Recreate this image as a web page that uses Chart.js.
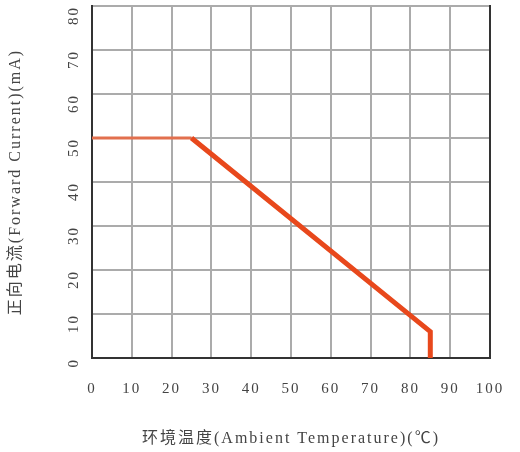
<!DOCTYPE html>
<html lang="zh">
<head>
    <meta charset="UTF-8">
    <title>Forward Current Derating</title>
    <script src="https://cdn.jsdelivr.net/npm/chart.js"></script>
    <style>
        body { margin: 0; background: #fff; }
    </style>
</head>
<body>
    <canvas id="myChart" width="520" height="452"></canvas>
    <script>
        // derating curve points
        const temps = [0, 25, 85, 85];
        const currents = [50, 50, 6, 0];
        const xTicks = [0, 10, 20, 30, 40, 50, 60, 70, 80, 90, 100];
        const yTicks = [0, 10, 20, 30, 40, 50, 60, 70, 80];

        const points = temps.map((t, i) => ({ x: t, y: currents[i] }));
        const family = '"Liberation Serif", "Noto Sans CJK SC", serif';
        const font = { family: family, size: 15 };

        // the scanned chart has wide letter spacing everywhere
        const spacing = {
            id: 'spacing',
            beforeDraw: chart => { chart.ctx.letterSpacing = '2px'; }
        };

        const ctx = document.getElementById('myChart').getContext('2d');
        new Chart(ctx, {
            type: 'scatter',
            data: {
                datasets: [{
                    data: points,
                    showLine: true,
                    borderColor: '#e8481c',
                    borderWidth: 5,
                    pointRadius: 0,
                    segment: {
                        borderWidth: c => c.p0DataIndex === 0 ? 3 : 5,
                        borderColor: c => c.p0DataIndex === 0 ? '#e2704e' : '#e8481c'
                    }
                }]
            },
            options: {
                responsive: false,
                animation: false,
                layout: { padding: { top: 6, right: 30, left: 0, bottom: 0 } },
                plugins: { legend: { display: false }, tooltip: { enabled: false } },
                scales: {
                    x: {
                        type: 'linear',
                        min: 0, max: 100,
                        afterBuildTicks: s => { s.ticks = xTicks.map(v => ({ value: v })); },
                        afterFit: s => { s.height = 94; s.paddingLeft = 0; s.paddingRight = 0; },
                        grid: { color: '#ababab', lineWidth: 2, drawTicks: false },
                        border: { color: '#333', width: 2 },
                        ticks: { color: '#444', font: font, padding: 22, maxRotation: 0, autoSkip: false },
                        title: {
                            display: true,
                            text: '环境温度(Ambient Temperature)(℃)',
                            color: '#444',
                            font: { family: family, size: 16 },
                            padding: { top: 18 }
                        }
                    },
                    y: {
                        min: 0, max: 80,
                        afterBuildTicks: s => { s.ticks = yTicks.map(v => ({ value: v })); },
                        afterFit: s => { s.width = 92; s.paddingTop = 0; s.paddingBottom = 0; },
                        grid: { color: '#ababab', lineWidth: 2, drawTicks: false },
                        border: { color: '#333', width: 2 },
                        ticks: { color: '#444', font: font, padding: 18, minRotation: 90, maxRotation: 90, autoSkip: false },
                        title: {
                            display: true,
                            text: '正向电流(Forward Current)(mA)',
                            color: '#444',
                            font: { family: family, size: 16 },
                            padding: { top: 6, bottom: 4 }
                        }
                    },
                    y2: {
                        position: 'right',
                        min: 0, max: 80,
                        afterFit: s => { s.width = 0; s.paddingTop = 0; s.paddingBottom = 0; },
                        grid: { display: false },
                        border: { color: '#333', width: 2 },
                        ticks: { display: false }
                    }
                }
            },
            plugins: [spacing]
        });
    </script>
</body>
</html>
